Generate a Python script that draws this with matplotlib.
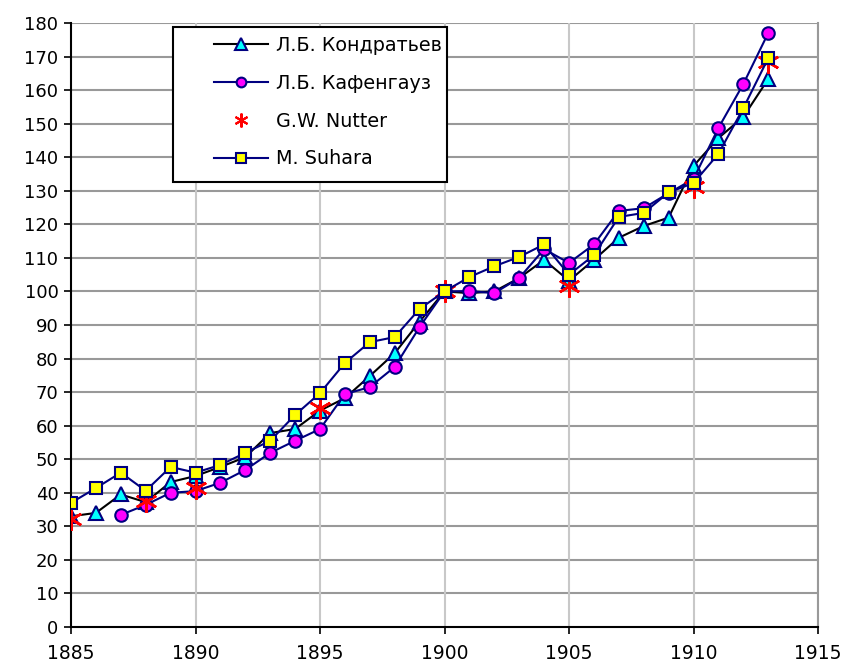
import matplotlib
matplotlib.use("Agg")
import matplotlib.pyplot as plt
from matplotlib.patches import Rectangle
from matplotlib.lines import Line2D

plt.rcParams['font.family'] = ['DejaVu Sans']

years_k = list(range(1885, 1914))
kondratiev = [33, 34, 39.5, 37.2, 43.2, 45, 47.7, 50.6, 57.8, 59, 64.5, 68.2, 74.8, 81.6, 91,
              100, 99.5, 100, 104, 109.4, 103.2, 109.4, 116, 119.5, 122, 137.4, 145.7, 152, 163.3]

years_kf = list(range(1887, 1914))
kafengauz = [33.4, 36.4, 40, 40.5, 43, 46.8, 51.9, 55.5, 59, 69.4, 71.5, 77.5, 89.4,
             100, 100.1, 99.5, 104, 112.6, 108.5, 114, 124, 124.8, 129.3, 133.5, 148.7, 161.8, 177]

years_n = [1885, 1888, 1890, 1895, 1900, 1905, 1910, 1913]
nutter = [32.2, 37.5, 41.5, 65.3, 100, 101.5, 131, 168.4]

years_s = list(range(1885, 1914))
suhara = [37, 41.4, 46, 40.6, 47.7, 46, 48.3, 51.9, 55.5, 63.2, 69.7, 78.7, 84.9, 86.4, 94.8,
          100, 104.3, 107.5, 110.3, 114, 105, 110.8, 122.2, 123.4, 129.5, 132.3, 141, 154.6, 169.5]

labels = ['Л.Б. Кондратьев', 'Л.Б. Кафенгауз', 'G.W. Nutter', 'M. Suhara']

navy = '#000080'

fig = plt.figure(figsize=(8.41, 6.68), dpi=100)
ax = fig.add_axes([71/841, 1-627/668, (818-71)/841, (627-23)/668])

ax.set_xlim(1885, 1915)
ax.set_ylim(0, 180)
ax.set_xticks(range(1885, 1916, 5))
ax.set_yticks(range(0, 181, 10))

for y in range(10, 181, 10):
    ax.axhline(y, color='#999999', lw=1.5, zorder=0)
for x in range(1890, 1916, 5):
    ax.axvline(x, color='#c8c8c8', lw=1.5, zorder=0)

ax.spines['top'].set_visible(False)
ax.spines['right'].set_color('#999999')
ax.spines['right'].set_linewidth(1.5)
ax.spines['left'].set_linewidth(1.5)
ax.spines['bottom'].set_linewidth(1.5)

ax.tick_params(axis='both', direction='out', length=5, width=1.2, labelsize=13, colors='black')
ax.tick_params(axis='x', pad=7, labelsize=13.5)
ax.tick_params(axis='y', pad=4)

h1, = ax.plot(years_k, kondratiev, color='black', lw=1.5, marker='^', ms=10,
              mfc='#00FFFF', mec=navy, mew=1.5, zorder=3)
h2, = ax.plot(years_kf, kafengauz, color=navy, lw=1.5, marker='o', ms=9,
              mfc='#FF00FF', mec=navy, mew=1.5, zorder=4)
h3, = ax.plot(years_n, nutter, color='red', lw=0, marker=(6, 2, 0), ms=16,
              mew=1.8, mec='red', zorder=5)
h4, = ax.plot(years_s, suhara, color=navy, lw=1.5, marker='s', ms=9,
              mfc='#FFFF00', mec=navy, mew=1.5, zorder=6)

# legend frame
x0 = (173-71)/747
y1 = 1-(27-23)/604
w = (447-173)/747
h = (182-27)/604
ax.add_patch(Rectangle((x0, y1-h), w, h, transform=ax.transAxes, facecolor='white',
                       edgecolor='black', lw=1.5, zorder=10))

lh = [Line2D([], [], color='black', lw=1.5, marker='^', ms=8, mfc='#00FFFF', mec=navy, mew=1.5),
      Line2D([], [], color=navy, lw=1.5, marker='o', ms=7, mfc='#FF00FF', mec=navy, mew=1.5),
      Line2D([], [], color='red', lw=0, marker=(6, 2, 0), ms=10, mec='red', mew=1.5),
      Line2D([], [], color=navy, lw=1.5, marker='s', ms=7, mfc='#FFFF00', mec=navy, mew=1.5)]
leg = ax.legend(lh, labels, loc='upper left',
                bbox_to_anchor=((216-71)/747 - 0.003, 1-(36-23)/604),
                frameon=False, fontsize=13.8, handlelength=2.85, handletextpad=0.4,
                labelspacing=0.98, borderaxespad=0, borderpad=0)
leg.set_zorder(11)

fig.savefig('out.png', dpi=100)
